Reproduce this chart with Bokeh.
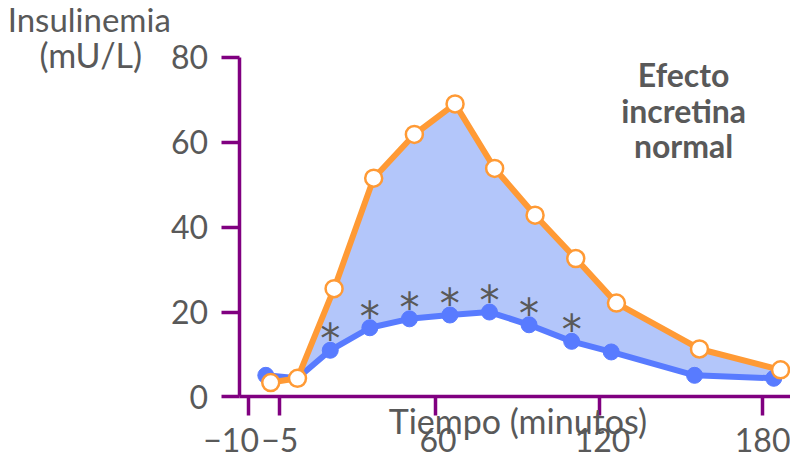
from bokeh.plotting import figure
from bokeh.models import Range1d, FixedTicker, Label, LinearAxis
from bokeh.core.properties import value
from bokeh.embed import file_html
from bokeh.resources import INLINE

# Data (x in the chart's drawn minute scale, y in mU/L)
orange_x = [-0.2, 9.6, 23.0, 37.5, 52.4, 67.3, 81.8, 96.6, 111.5, 126.4, 156.8, 186.5]
orange_y = [3.4, 4.4, 25.5, 51.5, 61.8, 69.0, 53.8, 42.8, 32.6, 22.1, 11.3, 6.4]
blue_x = [-2.0, 9.6, 21.6, 36.1, 50.6, 65.4, 79.9, 94.4, 110.0, 124.5, 155.0, 184.0]
blue_y = [5.1, 4.4, 11.0, 16.3, 18.4, 19.3, 20.0, 17.0, 13.1, 10.6, 5.1, 4.4]
significant = [False, False, True, True, True, True, True, True, True, False, False, False]

x_tick_pos = [-8.16, 2.97, 60, 120.2, 180]          # tick marks
x_label_pos = [-14.7, 3.1, 61.1, 121.3, 180.7]       # tick label centres
x_tick_labels = ["\u221210", "\u22125", "60", "120", "180"]
y_ticks = [0, 20, 40, 60, 80]

PURPLE = "#800080"
GRAY = "#595959"
ORANGE = "#FF9A35"
BLUE = "#587BFF"
FILL = "#B3C6FA"

Y_AXIS_AT = -11.78

p = figure(width=790, height=460, output_backend="svg", toolbar_location=None,
           x_range=Range1d(-99.16, 190.14), y_range=Range1d(-14.95, 93.34),
           min_border=0)
p.outline_line_color = None
p.grid.visible = False
p.background_fill_color = "white"

xa = p.xaxis[0]
ya = p.yaxis[0]
for ax in (xa, ya):
    ax.axis_line_color = PURPLE
    ax.axis_line_width = 3.5
    ax.major_tick_line_color = PURPLE
    ax.major_tick_line_width = 3.5
    ax.major_tick_in = 0
    ax.minor_tick_line_color = None
    ax.major_label_text_font = "Lato"
    ax.major_label_text_color = GRAY
    ax.major_label_text_font_size = "32px"

ya.fixed_location = Y_AXIS_AT
ya.bounds = (0, 80)
ya.ticker = FixedTicker(ticks=y_ticks)
ya.major_tick_out = 18
ya.major_label_standoff = 13

xa.fixed_location = 0
xa.bounds = (Y_AXIS_AT, 190.14)
xa.ticker = FixedTicker(ticks=x_tick_pos)
xa.major_label_overrides = {t: "" for t in x_tick_pos}
xa.major_tick_out = 19

# second bottom axis carrying only the tick labels
xl = LinearAxis(fixed_location=0, ticker=FixedTicker(ticks=x_label_pos),
                major_label_overrides={t: l for t, l in zip(x_label_pos, x_tick_labels)},
                axis_line_color=None, major_tick_line_color=None, minor_tick_line_color=None,
                major_tick_out=0, major_tick_in=0, major_label_standoff=31,
                major_label_text_font="Lato", major_label_text_color=GRAY,
                major_label_text_font_size="32px")
p.add_layout(xl, "below")

# shaded area between the two curves
patch_x = orange_x[1:] + blue_x[1:][::-1]
patch_y = orange_y[1:] + blue_y[1:][::-1]
p.patch(patch_x, patch_y, fill_color=FILL, line_color=None)

# blue curve
p.line(blue_x, blue_y, line_color=BLUE, line_width=6)
p.scatter(blue_x, blue_y, size=16, fill_color=BLUE, line_color=BLUE)

# asterisks
ax_ = [x for x, s in zip(blue_x, significant) if s]
ay_ = [y for y, s in zip(blue_y, significant) if s]
p.text(ax_, ay_, text=["*"] * len(ax_), text_font=value("DejaVu Sans"), text_font_size="40px",
       text_color=GRAY, text_align="center", text_baseline="middle", y_offset=-11)

# orange curve
p.line(orange_x, orange_y, line_color=ORANGE, line_width=6)
p.scatter(orange_x, orange_y, size=17, fill_color="white", line_color=ORANGE, line_width=2.5)

# texts
for txt, y in zip(["Efecto", "incretina", "normal"], [76.0, 67.45, 59.2]):
    p.add_layout(Label(x=151.0, y=y, text=txt, text_font="Lato", text_font_style="bold",
                       text_font_size="32px", text_color=GRAY, text_align="center",
                       text_baseline="middle"))

p.add_layout(Label(x=-36.8, y=88.9, text="Insulinemia", text_font="Lato", text_font_size="33px",
                   text_color=GRAY, text_align="right", text_baseline="middle"))
p.add_layout(Label(x=-47.3, y=80.6, text="(mU/L)", text_font="Lato", text_font_size="34px",
                   text_color=GRAY, text_align="right", text_baseline="middle"))
p.add_layout(Label(x=90.3, y=-5.6, text="Tiempo (minutos)", text_font="Lato", text_font_size="34px",
                   text_color=GRAY, text_align="center", text_baseline="middle"))

open("out.html", "w").write(file_html(p, INLINE))
